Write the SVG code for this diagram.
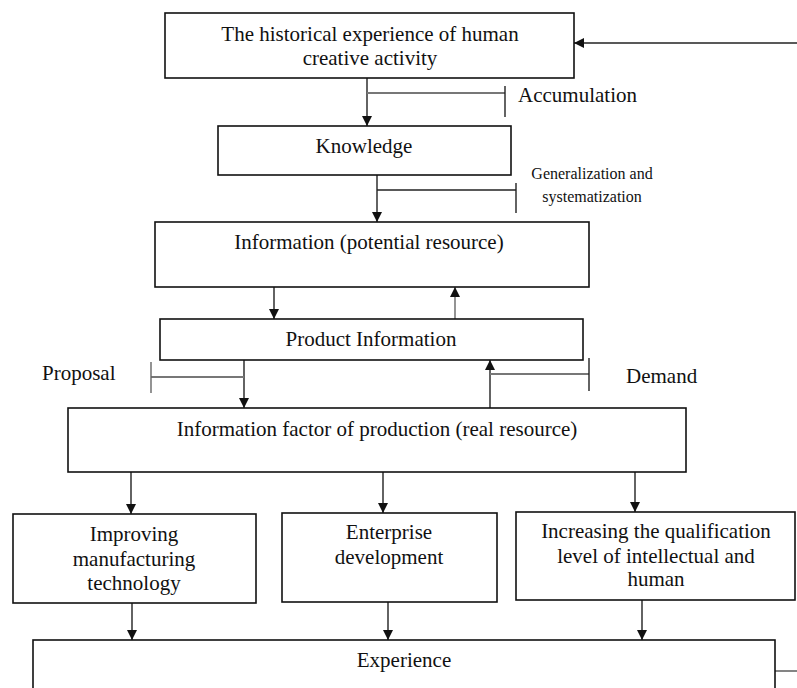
<svg xmlns="http://www.w3.org/2000/svg" width="797" height="688" viewBox="0 0 797 688">
<style>
  .box { fill: #fff; stroke: #111; stroke-width: 1.6; }
  .t { font-family: "Liberation Serif", "Times New Roman", serif; font-size: 21px; fill: #111; }
  .s { font-family: "Liberation Serif", "Times New Roman", serif; font-size: 16px; fill: #111; }
  .c { text-anchor: middle; }
  .ln { stroke: #222; stroke-width: 1.4; fill: none; }
  .gl { stroke: #777; stroke-width: 1.8; fill: none; }
  .ar { stroke: #222; stroke-width: 1.4; fill: none; marker-end: url(#ah); }
</style>
<defs>
  <marker id="ah" markerUnits="userSpaceOnUse" markerWidth="10" markerHeight="12" viewBox="0 0 10 12" refX="10" refY="6" orient="auto">
    <path d="M0,1 L10,6 L0,11 Z" fill="#111"/>
  </marker>
</defs>
<rect width="797" height="688" fill="#fff"/>

<g id="connectors">
  <line class="ar" x1="367" y1="78" x2="367" y2="126"/>
  <line class="gl" x1="367" y1="93" x2="505" y2="93"/>
  <line class="ln" x1="505" y1="86" x2="505" y2="117"/>
  <line class="ar" x1="377" y1="175" x2="377" y2="222"/>
  <line class="ln" x1="377" y1="190" x2="516" y2="190"/>
  <line class="ln" x1="516" y1="183" x2="516" y2="213"/>
  <line class="ar" x1="274" y1="287" x2="274" y2="319"/>
  <line class="ar" x1="455" y1="319" x2="455" y2="287" style="stroke:#666"/>
  <line class="ar" x1="244" y1="360" x2="244" y2="408"/>
  <line class="gl" x1="151" y1="377" x2="244" y2="377"/>
  <line class="ln" x1="151" y1="362" x2="151" y2="393" style="stroke:#666"/>
  <line class="ar" x1="490" y1="408" x2="490" y2="360"/>
  <line class="gl" x1="490" y1="374" x2="589" y2="374"/>
  <line class="ln" x1="589" y1="358" x2="589" y2="391"/>
  <line class="ar" x1="131" y1="472" x2="131" y2="514"/>
  <line class="ar" x1="383" y1="472" x2="383" y2="513"/>
  <line class="ar" x1="635" y1="472" x2="635" y2="512"/>
  <line class="ar" x1="132" y1="603" x2="132" y2="640"/>
  <line class="ar" x1="388" y1="602" x2="388" y2="640"/>
  <line class="ar" x1="642" y1="600" x2="642" y2="640"/>
  <line class="gl" x1="775" y1="671" x2="797" y2="671"/>
  <line class="ar" x1="797" y1="43" x2="574" y2="43"/>
</g>

<g id="n-history">
  <rect class="box" x="165" y="13" width="409" height="65"/>
  <text class="t c" x="370" y="41">The historical experience of human</text>
  <text class="t c" x="370" y="65">creative activity</text>
</g>
<g id="l-accumulation">
  <text class="t" x="518" y="102">Accumulation</text>
</g>
<g id="n-knowledge">
  <rect class="box" x="218" y="126" width="293" height="49"/>
  <text class="t c" x="364" y="153">Knowledge</text>
</g>
<g id="l-generalization">
  <text class="s c" x="592" y="179">Generalization and</text>
  <text class="s c" x="592" y="202">systematization</text>
</g>
<g id="n-information">
  <rect class="box" x="155" y="222" width="434" height="65"/>
  <text class="t c" x="369" y="249">Information (potential resource)</text>
</g>
<g id="n-product">
  <rect class="box" x="160" y="319" width="423" height="41"/>
  <text class="t c" x="371" y="346">Product Information</text>
</g>
<g id="l-proposal">
  <text class="t" x="42" y="380">Proposal</text>
</g>
<g id="l-demand">
  <text class="t" x="626" y="383">Demand</text>
</g>
<g id="n-factor">
  <rect class="box" x="68" y="408" width="618" height="64"/>
  <text class="t c" x="377" y="436">Information factor of production (real resource)</text>
</g>
<g id="n-improving">
  <rect class="box" x="13" y="514" width="243" height="89"/>
  <text class="t c" x="134" y="541">Improving</text>
  <text class="t c" x="134" y="566">manufacturing</text>
  <text class="t c" x="134" y="590">technology</text>
</g>
<g id="n-enterprise">
  <rect class="box" x="282" y="513" width="215" height="89"/>
  <text class="t c" x="389" y="539">Enterprise</text>
  <text class="t c" x="389" y="564">development</text>
</g>
<g id="n-qualification">
  <rect class="box" x="516" y="512" width="279" height="88"/>
  <text class="t c" x="656" y="538">Increasing the qualification</text>
  <text class="t c" x="656" y="563">level of intellectual and</text>
  <text class="t c" x="656" y="586">human</text>
</g>
<g id="n-experience">
  <rect class="box" x="33" y="640" width="742" height="60"/>
  <text class="t c" x="404" y="667">Experience</text>
</g>
</svg>
